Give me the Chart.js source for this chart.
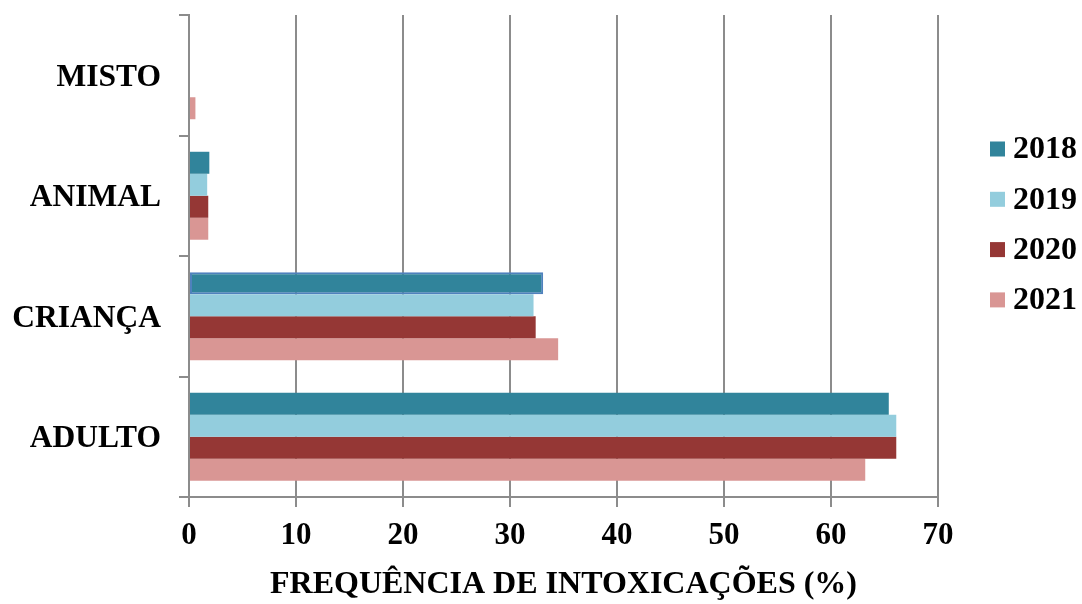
<!DOCTYPE html>
<html lang="pt">
<head>
<meta charset="utf-8">
<title>Frequência de intoxicações</title>
<script src="https://cdn.jsdelivr.net/npm/chart.js@4/dist/chart.umd.min.js"></script>
<style>
  html, body { margin: 0; padding: 0; background: #ffffff; }
  #wrap { width: 1082px; height: 604px; position: relative; }
</style>
</head>
<body>
<div id="wrap"><canvas id="grafico"></canvas></div>
<script>
// Categorias (de cima para baixo) e séries anuais (%)
const categorias = ['MISTO', 'ANIMAL', 'CRIANÇA', 'ADULTO'];
const anos = ['2018', '2019', '2020', '2021'];
const valores2018 = [0, 1.9, 33.1, 65.4];
const valores2019 = [0, 1.7, 32.2, 66.1];
const valores2020 = [0, 1.8, 32.4, 66.1];
const valores2021 = [0.6, 1.8, 34.5, 63.2];
const ticksX = [0, 10, 20, 30, 40, 50, 60, 70];

const cores = ['#31849B', '#93CDDD', '#953735', '#D99694'];
const series = [valores2018, valores2019, valores2020, valores2021];
const FONTE = '"Liberation Serif", "Times New Roman", serif';
const CINZA = '#8c8c8c';

// Legenda desenhada à direita da área do gráfico
const legendaDireita = {
  id: 'legendaDireita',
  afterDraw(chart) {
    const ctx = chart.ctx;
    ctx.save();
    ctx.font = 'bold 32px ' + FONTE;
    ctx.textBaseline = 'middle';
    ctx.textAlign = 'left';
    chart.data.datasets.forEach((ds, i) => {
      const cy = 149 + i * 50.3;
      ctx.fillStyle = ds.backgroundColor;
      ctx.fillRect(990, cy - 7.5, 15, 15);
      ctx.fillStyle = '#000000';
      ctx.fillText(ds.label, 1013, cy + 1);
    });
    ctx.restore();
  }
};

const datasets = anos.map((ano, i) => ({
  label: ano,
  data: series[i],
  backgroundColor: cores[i],
  // barra de 2018 em CRIANÇA com contorno azul
  borderColor: i === 0 ? ['rgba(0,0,0,0)', 'rgba(0,0,0,0)', '#4F81BD', 'rgba(0,0,0,0)'] : 'rgba(0,0,0,0)',
  borderWidth: i === 0 ? [0, 0, 2, 0] : 0,
  borderSkipped: false,
  categoryPercentage: 0.73,
  barPercentage: 1.0
}));

new Chart(document.getElementById('grafico'), {
  type: 'bar',
  data: { labels: categorias, datasets: datasets },
  options: {
    indexAxis: 'y',
    responsive: true,
    maintainAspectRatio: false,
    animation: false,
    layout: { padding: { left: 11, right: 144, top: 15, bottom: 0 } },
    plugins: {
      legend: { display: false },
      tooltip: { enabled: false }
    },
    scales: {
      x: {
        min: 0,
        max: 70,
        afterBuildTicks: (scale) => { scale.ticks = ticksX.map(v => ({ value: v })); },
        afterFit: (scale) => { scale.height = 107; },
        grid: { color: CINZA, lineWidth: 2, tickLength: 10, drawTicks: true },
        border: { color: CINZA, width: 2 },
        ticks: {
          color: '#000000',
          padding: 10,
          font: { family: FONTE, size: 31, weight: 'bold' }
        },
        title: {
          display: true,
          text: 'FREQUÊNCIA DE INTOXICAÇÕES (%)',
          color: '#000000',
          font: { family: FONTE, size: 32, weight: 'bold' },
          padding: { top: 4, bottom: 0 }
        }
      },
      y: {
        offset: true,
        afterFit: (scale) => {
          scale.width = 178;
          scale.paddingTop = 0;
          scale.paddingBottom = 0;
        },
        grid: { color: CINZA, lineWidth: 2, tickLength: 10, drawOnChartArea: false, offset: true },
        border: { color: CINZA, width: 2 },
        ticks: {
          color: '#000000',
          padding: 18,
          labelOffset: 2.5,
          font: { family: FONTE, size: 31.5, weight: 'bold' }
        }
      }
    }
  },
  plugins: [legendaDireita]
});
</script>
</body>
</html>
